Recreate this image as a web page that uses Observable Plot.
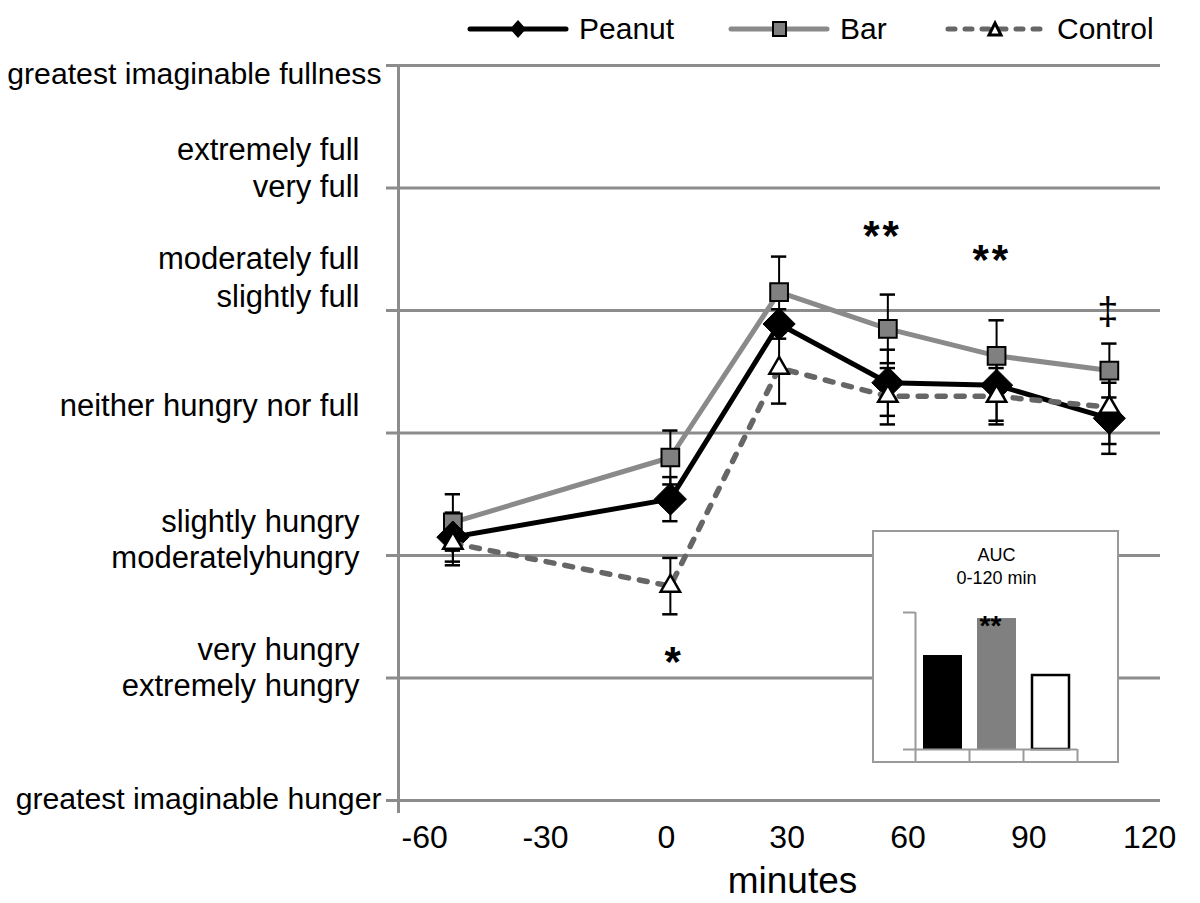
<!DOCTYPE html>
<html><head><meta charset="utf-8">
<script src="https://cdn.jsdelivr.net/npm/d3@7"></script>
<script src="https://cdn.jsdelivr.net/npm/@observablehq/plot@0.6"></script>
<style>
html,body{margin:0;padding:0;background:#fff;}
body{width:1200px;height:903px;overflow:hidden;font-family:"Liberation Sans",Arial,sans-serif;}
#wrap{position:relative;width:1200px;height:903px;}
#legend{position:relative;height:50px;width:1200px;}
.item{position:absolute;top:4px;height:50px;display:flex;align-items:center;}
.item span{font-size:30px;margin-left:10px;color:#000;line-height:1;white-space:nowrap;}
#inset{position:absolute;left:872px;top:530px;width:243px;height:229px;border:2px solid #9a9a9a;background:#fff;}
svg{overflow:visible;}
</style></head>
<body><div id="wrap"><div id="legend"></div><div id="chart"></div><div id="inset"></div></div>
<script>
// ---- data ----
const seriesNames = ["Peanut", "Bar", "Control"];
const minutes = [-53, 1, 28, 55, 82, 110];
const peanut = [2.15, 2.46, 3.89, 3.41, 3.39, 3.12];
const peanutErr = [0.20, 0.18, 0.12, 0.27, 0.29, 0.29];
const bar = [2.27, 2.80, 4.15, 3.85, 3.63, 3.51];
const barErr = [0.23, 0.22, 0.29, 0.28, 0.29, 0.22];
const control = [2.10, 1.75, 3.53, 3.30, 3.30, 3.21];
const controlErr = [0.18, 0.23, 0.29, 0.23, 0.23, 0.30];

const xTicks = [-60, -30, 0, 30, 60, 90, 120];
const yTicks = [0, 1, 2, 3, 4, 5, 6];
const scaleLabels = ["greatest imaginable fullness", "extremely full", "very full", "moderately full", "slightly full",
  "neither hungry nor full", "slightly hungry", "moderatelyhungry", "very hungry", "extremely hungry", "greatest imaginable hunger"];
const scaleLabelPos = [5.93, 5.31, 5.01, 4.42, 4.11, 3.22, 2.27, 1.98, 1.23, 0.93, 0.01];
const xLabel = "minutes";

const sigText = ["**", "**", "‡", "*"];
const sigX = [53.2, 80.3, 109.6, 1.1];
const sigY = [4.69, 4.50, 3.99, 1.22];

const aucTitle = "AUC\n0-120 min";
const aucGroups = ["Peanut", "Bar", "Control"];
const aucValues = [0.686, 0.956, 0.54];
const aucMax = 1;
const aucSig = ["", "**", ""];

// ---- styles ----
const font = "'Liberation Sans', Arial, sans-serif";
const grid = "#8c8c8c";
const style = {
  Peanut: {stroke: "#000", dash: null},
  Bar: {stroke: "#8a8a8a", dash: null},
  Control: {stroke: "#666", dash: "8,11"}
};

// ---- tables ----
const valueMap = {Peanut: [peanut, peanutErr], Bar: [bar, barErr], Control: [control, controlErr]};
const rows = seriesNames.flatMap(s => minutes.map((t, i) => ({series: s, t, v: valueMap[s][0][i], e: valueMap[s][1][i]})));
const of = s => rows.filter(d => d.series === s);
const labels = scaleLabels.map((label, i) => ({label, v: scaleLabelPos[i]}));
const sig = sigText.map((text, i) => ({text, x: sigX[i], y: sigY[i]}));
const auc = aucGroups.map((g, i) => ({group: g, i, v: aucValues[i], sig: aucSig[i]}));

const capHalf = 1.9;
const errMarks = rows => [
  Plot.ruleX(rows, {x: "t", y1: d => d.v - d.e, y2: d => d.v + d.e, stroke: "#000", strokeWidth: 2}),
  Plot.ruleY(rows, {y: d => d.v + d.e, x1: d => d.t - capHalf, x2: d => d.t + capHalf, stroke: "#000", strokeWidth: 2.5}),
  Plot.ruleY(rows, {y: d => d.v - d.e, x1: d => d.t - capHalf, x2: d => d.t + capHalf, stroke: "#000", strokeWidth: 2.5})
];
const lineMark = s => Plot.line(of(s), {x: "t", y: "v", stroke: style[s].stroke, strokeWidth: style[s].dash ? 5.5 : 5,
  strokeDasharray: style[s].dash, strokeLinecap: style[s].dash ? "round" : "butt", strokeLinejoin: "round"});

const xDomain = [-66.5, 122.7];
const chart = Plot.plot({
  width: 1200, height: 853,
  marginLeft: 398, marginRight: 40, marginTop: 15, marginBottom: 103,
  x: {domain: xDomain},
  y: {domain: [0, 6]},
  style: {fontFamily: font, background: "white", color: "black", overflow: "visible"},
  marks: [
    Plot.ruleY(yTicks, {stroke: grid, strokeWidth: 3}),
    Plot.ruleX([xDomain[0]], {y1: 6, y2: 0, stroke: grid, strokeWidth: 3, insetBottom: -13}),
    Plot.axisY(yTicks, {tickSize: 12, fill: "none", stroke: grid, strokeWidth: 3, label: null}),
    Plot.axisX(xTicks, {tickSize: 0, tickPadding: 25, fontSize: 32, tickFormat: d => String(d), label: null, fill: "#000"}),
    Plot.text(labels.filter(d => d.label.startsWith("greatest")), {y: "v", text: "label", frameAnchor: "left", lineAnchor: "middle", textAnchor: "end", dx: -17, fontSize: 30.2, fill: "#000"}),
    Plot.text(labels.filter(d => !d.label.startsWith("greatest")), {y: "v", text: "label", frameAnchor: "left", lineAnchor: "middle", textAnchor: "end", dx: -39, fontSize: 31, fill: "#000"}),
    Plot.text([xLabel], {text: d => d, frameAnchor: "bottom", lineAnchor: "middle", dx: 13, dy: 81, fontSize: 37, fill: "#000"}),
    ...errMarks(rows),
    lineMark("Bar"),
    Plot.dot(of("Bar"), {x: "t", y: "v", symbol: "square", r: 10, fill: "#808080", stroke: "#000", strokeWidth: 2}),
    lineMark("Peanut"),
    Plot.dot(of("Peanut"), {x: "t", y: "v", symbol: "diamond2", r: 14.5, fill: "#000", stroke: "#000", strokeWidth: 1}),
    lineMark("Control"),
    Plot.dot(of("Control"), {x: "t", y: "v", symbol: "triangle", r: 7.2, fill: "#fff", stroke: "#000", strokeWidth: 2.5}),
    Plot.text(sig.filter(d => d.text.startsWith("*")), {x: "x", y: "y", text: "text", fontSize: 42, fontWeight: "bold", dx: 2, dy: 11, fill: "#000"}),
    Plot.text(sig.filter(d => !d.text.startsWith("*")), {x: "x", y: "y", text: "text", fontSize: 38, fill: "#000"})
  ]
});
document.getElementById("chart").appendChild(chart);
d3.select(chart).selectAll("text").filter(function() { return this.textContent === "**"; }).attr("letter-spacing", "3px");

// ---- inset AUC chart ----
const axc = "#9a9a9a";
const inset = Plot.plot({
  width: 243, height: 229,
  marginLeft: 41, marginRight: 40, marginTop: 80, marginBottom: 12,
  x: {domain: [0, 3]},
  y: {domain: [0, aucMax]},
  style: {fontFamily: font, background: "white", color: "black", overflow: "visible"},
  marks: [
    Plot.rectY(auc.filter(d => d.group === "Peanut"), {x1: "i", x2: d => d.i + 1, y1: 0, y2: "v", insetLeft: 8, insetRight: 7, fill: "#000"}),
    Plot.rectY(auc.filter(d => d.group === "Bar"), {x1: "i", x2: d => d.i + 1, y1: 0, y2: "v", insetLeft: 8, insetRight: 7, fill: "#808080"}),
    Plot.rectY(auc.filter(d => d.group === "Control"), {x1: "i", x2: d => d.i + 1, y1: 0, y2: "v", insetLeft: 9, insetRight: 8, fill: "#fff", stroke: "#000", strokeWidth: 2.5}),
    Plot.ruleY([0], {stroke: axc, strokeWidth: 2}),
    Plot.ruleX([0], {y1: 0, y2: aucMax, stroke: axc, strokeWidth: 2}),
    Plot.axisY([0, aucMax], {tickSize: 12, fill: "none", stroke: axc, strokeWidth: 2, label: null}),
    Plot.axisX([0, 1, 2, 3], {tickSize: 13, fill: "none", stroke: axc, strokeWidth: 2, label: null}),
    Plot.text([aucTitle], {text: d => d, frameAnchor: "top", lineAnchor: "top", dy: -67, fontSize: 18, lineHeight: 1.25, fill: "#000"}),
    Plot.text(auc.filter(d => d.sig), {x: d => d.i + 0.5, y: "v", text: "sig", fontSize: 28, fontWeight: "bold", dx: -6, dy: 8, fill: "#000"})
  ]
});
document.getElementById("inset").appendChild(inset);

// ---- legend ----
const legendLeft = {Peanut: 467, Bar: 728, Control: 945};
const ns = "http://www.w3.org/2000/svg";
const legend = document.getElementById("legend");
for (const s of seriesNames) {
  const item = document.createElement("div");
  item.className = "item";
  item.style.left = legendLeft[s] + "px";
  const sw = document.createElementNS(ns, "svg");
  sw.setAttribute("width", 102); sw.setAttribute("height", 24);
  const line = document.createElementNS(ns, "line");
  line.setAttribute("x1", 3); line.setAttribute("x2", 99); line.setAttribute("y1", 12); line.setAttribute("y2", 12);
  line.setAttribute("stroke", style[s].stroke); line.setAttribute("stroke-width", 5);
  line.setAttribute("stroke-linecap", "round");
  if (style[s].dash) line.setAttribute("stroke-dasharray", "7,10");
  sw.appendChild(line);
  let m;
  if (s === "Peanut") {
    m = document.createElementNS(ns, "polygon");
    m.setAttribute("points", "51,3 59,12 51,21 43,12");
    m.setAttribute("fill", "#000");
  } else if (s === "Bar") {
    m = document.createElementNS(ns, "rect");
    m.setAttribute("x", 45); m.setAttribute("y", 5); m.setAttribute("width", 13); m.setAttribute("height", 14);
    m.setAttribute("fill", "#808080"); m.setAttribute("stroke", "#000"); m.setAttribute("stroke-width", 2);
  } else {
    m = document.createElementNS(ns, "polygon");
    m.setAttribute("points", "50,6 56,18 44,18");
    m.setAttribute("fill", "#fff"); m.setAttribute("stroke", "#000"); m.setAttribute("stroke-width", 3);
  }
  sw.appendChild(m);
  item.appendChild(sw);
  const span = document.createElement("span");
  span.textContent = s;
  item.appendChild(span);
  legend.appendChild(item);
}
</script>
</body></html>
